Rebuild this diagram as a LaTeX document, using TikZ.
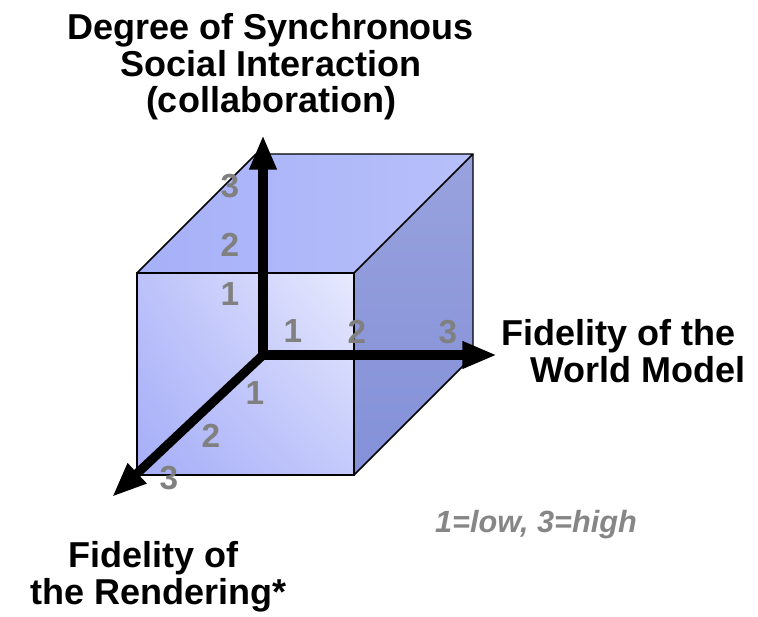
\documentclass[tikz,border=0pt]{standalone}
\usepackage{fontspec}
\setmainfont{Liberation Sans}
\usepackage{tikz}
\usepackage{xcolor}
\usetikzlibrary{arrows.meta, shadings}
\definecolor{CubeTopL}{HTML}{A6B0F8}
\definecolor{CubeTopR}{HTML}{B8C0FA}
\definecolor{CubeSideT}{HTML}{98A2DE}
\definecolor{CubeSideB}{HTML}{8490D8}
\definecolor{FrontUL}{HTML}{BCC2FA}
\definecolor{FrontUR}{HTML}{E8EAFD}
\definecolor{FrontLL}{HTML}{A6AEF8}
\definecolor{FrontLR}{HTML}{C4CAFB}
\definecolor{ScaleGray}{HTML}{808080}

\begin{document}
\begin{tikzpicture}[x=0.75pt,y=-0.75pt,
    axis/.style={line width=6.8pt,-{Triangle[length=26pt,width=19pt]}},
    scalenum/.style={font=\fontsize{25}{25}\selectfont\bfseries,text=ScaleGray,inner sep=0pt},
    axislabel/.style={font=\fontsize{27}{27.6}\selectfont\bfseries,inner sep=0pt}]
            \useasboundingbox (0,0) rectangle (758,617);

            % Cube corners
            \coordinate (ftl) at (137,273);
            \coordinate (ftr) at (354,273);
            \coordinate (fbr) at (354,475);
            \coordinate (fbl) at (137,475);
            \coordinate (btl) at (256,154);
            \coordinate (btr) at (473,154);
            \coordinate (bbr) at (473,356);

            % Cube faces
            \shade[left color=CubeTopL,right color=CubeTopR] (ftl) -- (btl) -- (btr) -- (ftr) -- cycle;
            \shade[top color=CubeSideT,bottom color=CubeSideB] (ftr) -- (btr) -- (bbr) -- (fbr) -- cycle;
            \shade[upper left=FrontUL,upper right=FrontUR,lower left=FrontLL,lower right=FrontLR] (ftl) rectangle (fbr);
            \draw[line width=1.1pt,line join=round] (ftl) -- (btl) -- (btr) -- (ftr);
            \draw[line width=1.1pt,line join=round] (btr) -- (bbr) -- (fbr);
            \draw[line width=1.1pt] (ftl) rectangle (fbr);

            % Axes
            \coordinate (origin) at (263,355);
            \coordinate (upTip) at (263,135);
            \coordinate (rightTip) at (497,355);
            \coordinate (downTip) at (112,497);
            \draw[axis] (origin) -- (upTip);
            \draw[axis] (origin) -- (rightTip);
            \draw[axis] (origin) -- (downTip);

            % Scale numbers
            \node[scalenum] (up1) at (230,294) {1};
            \node[scalenum] (up2) at (230,245) {2};
            \node[scalenum] (up3) at (230,186) {3};
            \node[scalenum] (rt1) at (293,331) {1};
            \node[scalenum] (rt2) at (357,332) {2};
            \node[scalenum] (rt3) at (448,332) {3};
            \node[scalenum] (dn1) at (255,393) {1};
            \node[scalenum] (dn2) at (211,436) {2};
            \node[scalenum] (dn3) at (169,478) {3};

            % Axis labels
            \node[axislabel,align=center,anchor=north] (social) at (271,13)
                {Degree of Synchronous\\Social Interaction\\(collaboration)};
            \node[axislabel,align=right,anchor=north east] (world) at (746,319)
                {Fidelity of the\kern0.28em\\World Model};
            \node[axislabel,align=center,anchor=north] (render) at (159,541)
                {Fidelity of\kern0.28em\\the Rendering*};
            \node[font=\fontsize{23}{23}\selectfont\bfseries\itshape,text=ScaleGray!95,inner sep=0pt] (legend) at (536,525)
                {1=low, 3=high};
        \end{tikzpicture}
\end{document}
